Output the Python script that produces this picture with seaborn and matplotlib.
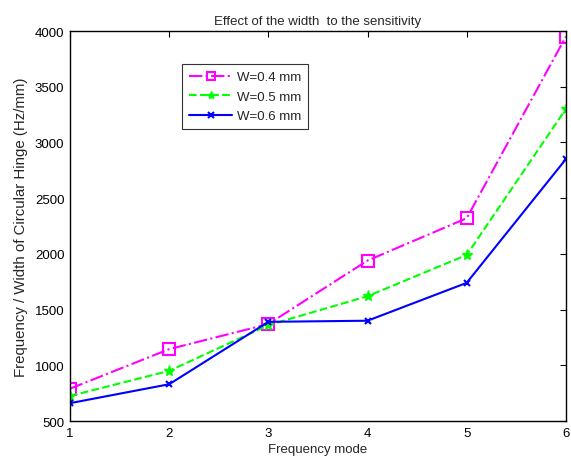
import pandas as pd
import seaborn as sns
import matplotlib.pyplot as plt

# Frequency / width values
modes = [1, 2, 3, 4, 5, 6]
w04 = [790, 1145, 1370, 1940, 2320, 3950]
w05 = [725, 950, 1360, 1620, 1990, 3300]
w06 = [660, 830, 1390, 1400, 1740, 2850]
labels = ["W=0.4 mm", "W=0.5 mm", "W=0.6 mm"]

sns.set_style("white")
plt.rcParams["font.family"] = ["Liberation Sans", "DejaVu Sans"]

fig = plt.figure(figsize=(5.71, 4.64), dpi=100)
ax = fig.add_axes([0.1226, 0.0905, 0.8684, 0.8405])

styles = [
    dict(color="#ff00ff", linestyle="-.", marker="s", markersize=8,
         markerfacecolor="none", markeredgecolor="#ff00ff", markeredgewidth=1.5),
    dict(color="#00ff00", linestyle="--", marker="*", markersize=8,
         markerfacecolor="#00ff00", markeredgecolor="#00ff00", markeredgewidth=1.0),
    dict(color="#0000ff", linestyle="-", marker="x", markersize=5,
         markeredgecolor="#0000ff", markeredgewidth=1.5),
]
for vals, lab, st in zip([w04, w05, w06], labels, styles):
    df = pd.DataFrame({"mode": modes, "val": vals})
    sns.lineplot(data=df, x="mode", y="val", ax=ax, label=lab, linewidth=1.5)
    line = ax.lines[-1]
    line.set(**st)

ax.set_xlim(1, 6)
ax.set_ylim(500, 4000)
ax.set_xticks(modes)
ax.set_yticks(range(500, 4001, 500))
ax.tick_params(direction="in", length=4, labelsize=9.5, top=True, right=True,
               width=0.8, colors="black", pad=4)
for s in ax.spines.values():
    s.set_color("black")
    s.set_linewidth(1.0)
ax.set_xlabel("Frequency mode", fontsize=9.5, labelpad=3)
ax.set_ylabel("Frequency / Width of Circular Hinge (Hz/mm)", fontsize=10.8, labelpad=5)
ax.set_title("Effect of the width  to the sensitivity", fontsize=9.5, pad=5)

ax.get_legend().remove()
leg = ax.legend(loc="upper left", bbox_to_anchor=(0.213, 0.933), fontsize=9.5,
                frameon=True, fancybox=False, edgecolor="black",
                handlelength=3.2, handletextpad=0.4, borderpad=0.55,
                labelspacing=0.55, markerscale=0.75)
leg.get_frame().set_linewidth(0.8)

fig.savefig("out.png", dpi=100)
plt.close()
